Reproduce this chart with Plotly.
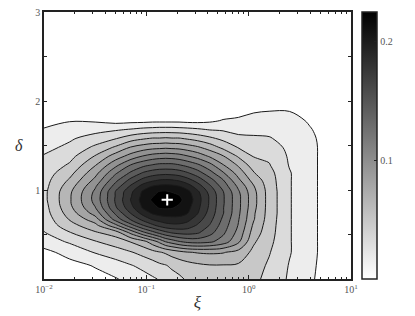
import numpy as np
import plotly.graph_objects as go

# grid positions: log10(xi) columns and delta rows
log_xi = [-2.0, -1.75, -1.5, -1.3, -1.15, -1.03, -0.94, -0.87, -0.81, -0.75, -0.68,
          -0.6, -0.5, -0.38, -0.25, -0.1, 0.05, 0.2, 0.4, 0.6, 0.8, 1.0]
delta = [0.0, 0.15, 0.3, 0.42, 0.52, 0.6, 0.67, 0.74, 0.8, 0.85, 0.89, 0.93, 0.98,
         1.04, 1.11, 1.19, 1.28, 1.38, 1.48, 1.58, 1.68, 1.78, 1.9, 2.05, 2.3, 3.0]

# estimated field values (thousandths); one row per delta, one column per log10(xi)
z_milli = [
    [3, 5, 10, 14, 19, 24, 28, 31, 35, 38, 42, 47, 51, 54, 55, 53, 49, 40, 28, 17, 8, 3],
    [7, 10, 16, 23, 29, 34, 38, 42, 44, 48, 51, 54, 57, 59, 59, 58, 51, 43, 29, 18, 8, 3],
    [11, 20, 31, 38, 44, 50, 55, 59, 62, 66, 70, 74, 76, 77, 76, 70, 56, 46, 31, 19, 8, 3],
    [22, 32, 44, 52, 61, 70, 83, 94, 106, 112, 119, 124, 126, 123, 113, 93, 62, 49, 31, 19, 8, 3],
    [29, 44, 58, 67, 94, 116, 129, 139, 146, 151, 154, 155, 152, 140, 123, 100, 68, 51, 31, 19, 8, 3],
    [34, 54, 70, 100, 129, 149, 161, 169, 174, 176, 176, 173, 163, 149, 128, 104, 72, 52, 31, 19, 8, 3],
    [36, 61, 83, 126, 152, 170, 181, 186, 189, 190, 190, 185, 172, 155, 132, 106, 76, 53, 31, 19, 8, 3],
    [38, 67, 96, 138, 166, 186, 197, 201, 202, 202, 201, 196, 181, 159, 136, 108, 77, 54, 31, 19, 8, 3],
    [39, 71, 104, 148, 175, 197, 206, 211, 212, 211, 207, 200, 184, 162, 136, 109, 79, 54, 31, 19, 8, 3],
    [40, 73, 108, 151, 179, 200, 209, 216, 219, 216, 211, 203, 186, 163, 137, 109, 80, 54, 31, 19, 8, 3],
    [41, 73, 110, 152, 181, 202, 212, 218, 225, 219, 213, 205, 187, 163, 137, 109, 80, 54, 31, 19, 8, 3],
    [41, 73, 110, 151, 179, 200, 209, 216, 219, 216, 211, 203, 186, 163, 137, 109, 80, 54, 31, 19, 8, 3],
    [41, 72, 108, 151, 177, 198, 206, 211, 212, 209, 207, 200, 183, 160, 136, 107, 79, 54, 31, 19, 8, 3],
    [40, 68, 103, 142, 168, 187, 196, 199, 200, 199, 196, 188, 173, 153, 129, 102, 76, 53, 31, 19, 8, 3],
    [39, 62, 94, 131, 155, 170, 177, 181, 182, 181, 178, 171, 159, 141, 121, 93, 69, 52, 31, 19, 8, 3],
    [37, 55, 85, 118, 138, 152, 158, 160, 161, 160, 158, 152, 142, 126, 107, 84, 61, 50, 31, 19, 8, 3],
    [34, 47, 74, 101, 121, 131, 136, 139, 139, 139, 136, 131, 123, 110, 91, 73, 52, 46, 29, 19, 8, 3],
    [31, 40, 61, 82, 96, 106, 111, 113, 114, 113, 111, 106, 99, 88, 76, 58, 44, 42, 28, 19, 8, 3],
    [26, 33, 48, 62, 76, 82, 85, 86, 87, 86, 85, 82, 77, 68, 56, 44, 38, 36, 27, 19, 8, 3],
    [21, 28, 36, 44, 53, 58, 61, 61, 62, 61, 61, 58, 54, 48, 41, 33, 32, 31, 25, 18, 8, 3],
    [16, 22, 25, 28, 31, 34, 35, 36, 36, 36, 35, 34, 32, 29, 28, 26, 26, 26, 23, 16, 7, 3],
    [10, 14, 13, 9, 10, 10, 11, 11, 11, 11, 11, 10, 10, 12, 16, 18, 20, 22, 21, 13, 6, 2],
    [5, 6, 5, 2, 1, 1, 1, 1, 1, 1, 1, 1, 1, 3, 6, 8, 13, 14, 14, 10, 4, 2],
    [2, 2, 2, 0, 0, 0, 0, 0, 0, 0, 0, 0, 0, 0, 1, 3, 5, 7, 7, 5, 2, 1],
    [0, 0, 0, 0, 0, 0, 0, 0, 0, 0, 0, 0, 0, 0, 0, 0, 1, 2, 2, 2, 1, 0],
    [0, 0, 0, 0, 0, 0, 0, 0, 0, 0, 0, 0, 0, 0, 0, 0, 0, 0, 0, 0, 0, 0],
]

peak_xi = [0.16]
peak_delta = [0.89]

x_tick_vals = [0.01, 0.1, 1, 10]
x_tick_text = ["10<sup>\u22122</sup>", "10<sup>\u22121</sup>", "10<sup>0</sup>", "10<sup>1</sup>"]
y_tick_vals = [1, 2, 3]
y_tick_text = ["1", "2", "3"]
y_minor_vals = [0.5, 1.5, 2.5]
cbar_tick_vals = [0.1, 0.2]
cbar_tick_text = ["0.1", "0.2"]

xi = [10 ** v for v in log_xi]
z = np.array(z_milli, dtype=float) / 1000.0

gray = [[0, "#ffffff"], [1, "#000000"]]
font_family = "Liberation Serif, Times New Roman, serif"
tick_col = "#555555"

fig = go.Figure()
fig.add_trace(go.Contour(
    x=xi, y=delta, z=z,
    colorscale=gray,
    showscale=False,
    contours=dict(start=0.015, end=0.21, size=0.015, coloring="fill"),
    line=dict(color="#1a1a1a", width=1, smoothing=1.0),
    hoverinfo="skip",
))
fig.add_trace(go.Scatter(
    x=peak_xi, y=peak_delta, mode="markers",
    marker=dict(symbol="cross-thin", size=8, line=dict(color="white", width=2)),
    hoverinfo="skip", showlegend=False,
))
# colorbar carrier (continuous scale)
fig.add_trace(go.Scatter(
    x=[0.01], y=[0], mode="markers",
    marker=dict(color=[0], colorscale=gray, cmin=0, cmax=0.225, opacity=0, size=1,
                showscale=True,
                colorbar=dict(x=1.036, xanchor="left", xpad=0, ypad=0, y=0.5, yanchor="middle",
                              len=1, lenmode="fraction", thickness=15,
                              outlinewidth=1.5, outlinecolor="#222",
                              tickvals=cbar_tick_vals, ticktext=cbar_tick_text,
                              ticks="inside", ticklen=3, tickcolor="#222",
                              tickfont=dict(family=font_family, size=10, color=tick_col))),
    hoverinfo="skip", showlegend=False,
))

minor_vals = [k * 10.0 ** e for e in (-2, -1, 0) for k in range(2, 10)]

fig.update_layout(
    width=415, height=316,
    margin=dict(l=44, r=64, t=6, b=37),
    paper_bgcolor="white", plot_bgcolor="white",
    showlegend=False,
    font=dict(family=font_family, color=tick_col),
    xaxis=dict(type="log", range=[-2, 1], showgrid=False, zeroline=False,
               showline=True, linecolor="#222", linewidth=1.5, mirror="allticks",
               ticks="inside", ticklen=4, tickcolor="#222",
               tickvals=x_tick_vals, ticktext=x_tick_text,
               tickfont=dict(family=font_family, size=10, color=tick_col),
               minor=dict(ticks="inside", ticklen=2, tickcolor="#222", tickvals=minor_vals, showgrid=False),
               title=dict(text="<i>\u03be</i>", font=dict(family=font_family, size=17, color="#333"), standoff=2)),
    yaxis=dict(range=[0, 3], showgrid=False, zeroline=False,
               showline=True, linecolor="#222", linewidth=1.5, mirror="allticks",
               ticks="inside", ticklen=3, tickcolor="#222",
               tickvals=y_tick_vals, ticktext=y_tick_text,
               tickfont=dict(family=font_family, size=10, color=tick_col),
               minor=dict(ticks="inside", ticklen=3, tickcolor="#222", tickvals=y_minor_vals, showgrid=False)),
    annotations=[dict(text="<i>\u03b4</i>", xref="paper", yref="paper", x=-0.08, y=0.5,
                      showarrow=False, font=dict(family=font_family, size=16, color="#333"),
                      xanchor="center", yanchor="middle")],
)

fig.write_html("out.html", config={"displayModeBar": False},
               post_script="document.body.style.margin='0';document.body.style.overflow='hidden';")
